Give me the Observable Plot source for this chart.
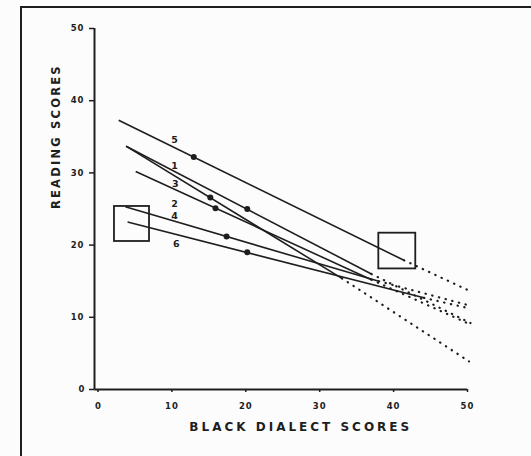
<!DOCTYPE html>
<html><head><meta charset="utf-8">
<script src="https://cdn.jsdelivr.net/npm/d3@7"></script>
<script src="https://cdn.jsdelivr.net/npm/@observablehq/plot@0.6"></script>
<style>
html,body{margin:0;padding:0;background:#fcfcfc;}
#wrap{position:relative;width:531px;height:456px;overflow:hidden;background:#fcfcfc;}
#border{position:absolute;left:20px;top:6px;width:620px;height:620px;border:2px solid #1e1e1e;}
#chart{position:absolute;left:0;top:0;}
</style></head><body>
<div id="wrap"><div id="border"></div><div id="chart"></div></div>
<script>
// Regression lines (solid over data range, dotted extrapolation)
const lineIds    = ["5", "1", "2", "3", "4", "6"];
const startX     = [2.8, 3.8, 3.8, 5.1, 3.7, 4.0];
const startY     = [37.3, 33.7, 33.7, 30.2, 25.3, 23.2];
const solidEndX  = [41.4, 33.0, 37.0, 37.0, 38.0, 44.1];
const solidEndY  = [17.9, 15.4, 16.0, 15.2, 15.0, 12.7];
const dottedEndX = [50.4, 50.2, 50.4, 50.4, 50.4, 50.4];
const dottedEndY = [13.6, 3.9, 9.2, 9.0, 11.6, 11.2];
// Mean points
const pointX = [12.96, 15.2, 20.2, 15.9, 17.4, 20.2];
const pointY = [32.2, 26.6, 25.0, 25.1, 21.2, 19.0];
// Line number labels
const labelText = ["5", "1", "3", "2", "4", "6"];
const labelX    = [10.35, 10.35, 10.45, 10.35, 10.35, 10.6];
const labelY    = [34.6, 31.0, 28.4, 25.7, 24.1, 20.1];
// Highlight boxes
const boxX1 = [2.23, 38.0];
const boxX2 = [6.97, 43.0];
const boxY1 = [20.5, 16.7];
const boxY2 = [25.35, 21.65];
// Axes
const xTicks = [0, 10, 20, 30, 40, 50];
const yTicks = [0, 10, 20, 30, 40, 50];
const xTitle = "BLACK DIALECT SCORES";
const yTitle = "READING SCORES";

const ink = "#1e1e1e";
const solid = lineIds.map((id, i) => ({id, x1: startX[i], y1: startY[i], x2: solidEndX[i], y2: solidEndY[i]}));
const dotted = lineIds.map((id, i) => ({id, x1: solidEndX[i], y1: solidEndY[i], x2: dottedEndX[i], y2: dottedEndY[i]}));
const points = pointX.map((x, i) => ({x, y: pointY[i]}));
const labels = labelText.map((t, i) => ({t, x: labelX[i], y: labelY[i]}));
const boxes = boxX1.map((x1, i) => ({x1, x2: boxX2[i], y1: boxY1[i], y2: boxY2[i]}));

const chart = Plot.plot({
  width: 531, height: 456,
  marginLeft: 97.5, marginRight: 64, marginTop: 28, marginBottom: 67,
  x: {domain: [0, 50]},
  y: {domain: [0, 50]},
  style: {background: "transparent", fontFamily: "DejaVu Sans", color: ink},
  marks: [
    Plot.link(dotted, {x1: "x1", y1: "y1", x2: "x2", y2: "y2", stroke: ink, strokeWidth: 2.2, strokeDasharray: "0.4,6.5", strokeLinecap: "round"}),
    Plot.link(solid, {x1: "x1", y1: "y1", x2: "x2", y2: "y2", stroke: ink, strokeWidth: 1.6}),
    Plot.rect(boxes, {x1: "x1", x2: "x2", y1: "y1", y2: "y2", fill: "none", stroke: ink, strokeWidth: 1.8}),
    Plot.dot(points, {x: "x", y: "y", r: 3, fill: ink}),
    Plot.text(labels, {x: "x", y: "y", text: "t", fontSize: 9.5, fontWeight: "bold", fill: ink}),
    Plot.ruleX([0], {y1: 0, y2: 50, dx: -3.5, stroke: ink, strokeWidth: 2}),
    Plot.ruleY([0], {x1: -0.45, x2: 50, stroke: ink, strokeWidth: 2}),
    Plot.axisY({ticks: yTicks, tickSize: 5, tickPadding: 5, fontSize: 8.5, fontWeight: "bold", label: null, dx: -3.5, stroke: ink, strokeWidth: 1.5}),
    Plot.axisX({ticks: xTicks, tickSize: 3, tickPadding: 10, fontSize: 8.5, fontWeight: "bold", label: null, stroke: ink, strokeWidth: 1.5}),
    Plot.text([yTitle], {frameAnchor: "left", rotate: -90, dx: -42, fontSize: 11.5, fontWeight: "bold", fill: ink}),
    Plot.text([xTitle], {frameAnchor: "bottom", dx: 18, dy: 41, fontSize: 12, fontWeight: "bold", fill: ink})
  ]
});
d3.select(chart).selectAll("text").each(function() {
  const t = this.textContent;
  if (t === xTitle) this.setAttribute("letter-spacing", "3");
  else if (t === yTitle) this.setAttribute("letter-spacing", "2.2");
  else if (/^\d+$/.test(t) && t.length === 2) this.setAttribute("letter-spacing", "1");
});
document.getElementById("chart").append(chart);
</script>
</body></html>
